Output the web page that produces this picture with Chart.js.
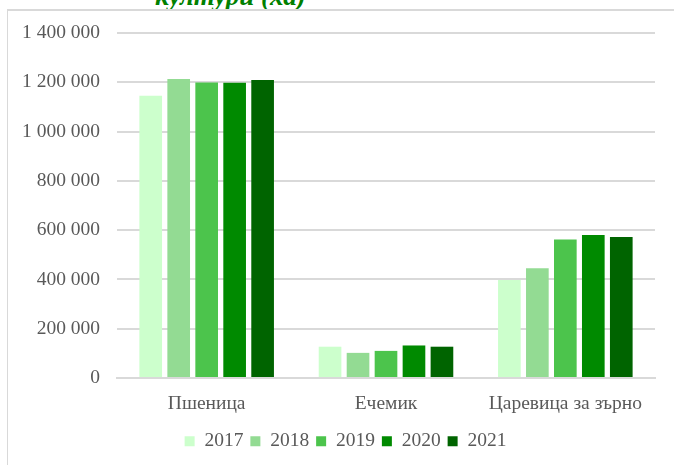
<!DOCTYPE html>
<html>
<head>
<meta charset="utf-8">
<script src="https://cdn.jsdelivr.net/npm/chart.js@4.4.1/dist/chart.umd.min.js"></script>
<style>
  html, body { margin: 0; padding: 0; background: #fff; }
  #wrap { position: relative; width: 674px; height: 465px; overflow: hidden; }
  #frame { position: absolute; left: 7px; top: 9px; right: 0; bottom: 0;
           border-left: 1px solid #d9d9d9; border-top: 2px solid #d9d9d9; }
  #title { position: absolute; left: 155px; top: -17px; font: italic bold 27px "Liberation Serif", serif;
           line-height: 27px; color: #008000; white-space: nowrap; }
  #c { position: absolute; left: 0; top: 0; }
</style>
</head>
<body>
<div id="wrap">
  <div id="title">култури (ха)</div>
  <div id="frame"></div>
  <canvas id="c" width="674" height="465"></canvas>
</div>
<script>
const categories = ["Пшеница", "Ечемик", "Царевица за зърно"];
const years = ["2017", "2018", "2019", "2020", "2021"];
const values2017 = [1145000, 127000, 398000];
const values2018 = [1213000, 102000, 445000];
const values2019 = [1199000, 110000, 562000];
const values2020 = [1198000, 132000, 580000];
const values2021 = [1209000, 127000, 572000];
const colors = ["#ccffcc", "#93db93", "#4cc44c", "#008a00", "#006400"];
const yMax = 1400000;
const yStep = 200000;

const series = [values2017, values2018, values2019, values2020, values2021];
const fmt = v => String(v).replace(/\B(?=(\d{3})+(?!\d))/g, " ");
const FONT = { family: "'Liberation Serif', 'Times New Roman', serif", size: 19.5 };

const legendShift = {
  id: "legendShift",
  afterLayout(chart) {
    if (chart.legend) { chart.legend.left += 18; chart.legend.right += 18; }
  }
};

new Chart(document.getElementById("c"), {
  type: "bar",
  data: {
    labels: categories,
    datasets: years.map((y, i) => ({
      label: y,
      data: series[i],
      backgroundColor: colors[i],
      borderWidth: 0,
      categoryPercentage: 0.78,
      barPercentage: 0.81
    }))
  },
  plugins: [legendShift],
  options: {
    responsive: false,
    animation: false,
    devicePixelRatio: 1,
    layout: { padding: { top: 33, right: 19, bottom: 4, left: 0 } },
    plugins: {
      tooltip: { enabled: false },
      legend: {
        position: "bottom",
        labels: { boxWidth: 10, boxHeight: 10, padding: 7, color: "#595959", font: FONT }
      }
    },
    scales: {
      x: {
        grid: { display: false, drawTicks: false },
        border: { display: true, color: "#d9d9d9", width: 2 },
        ticks: { color: "#595959", font: FONT, padding: 14 },
        afterFit: s => { s.height = 46.5; }
      },
      y: {
        min: 0, max: yMax,
        grid: { color: "#d9d9d9", lineWidth: 2, drawTicks: false },
        border: { display: false },
        ticks: { stepSize: yStep, color: "#595959", font: FONT, padding: 17, callback: v => fmt(v) },
        afterFit: s => { s.width = 117; }
      }
    }
  }
});
</script>
</body>
</html>
